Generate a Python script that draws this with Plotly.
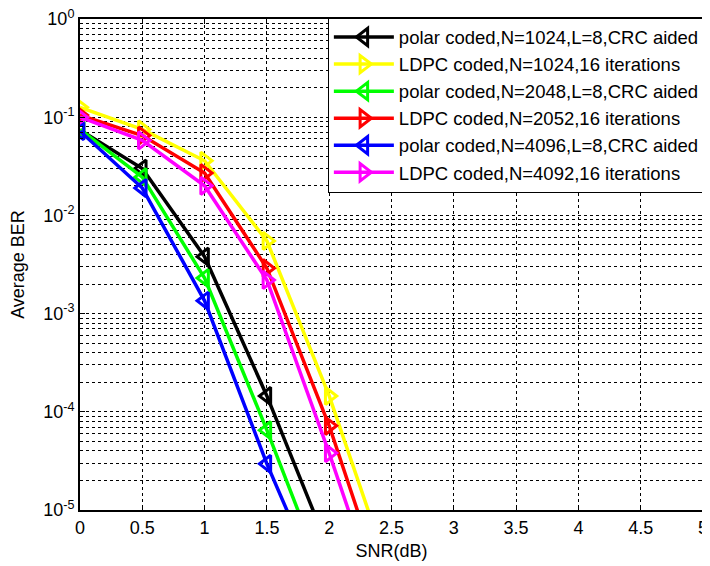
import plotly.graph_objects as go

snr = [0, 0.5, 1, 1.5, 2, 2.5]

polar_1024 = [0.074, 0.030, 0.0038, 1.45e-4, 3.9e-6]
ldpc_1024 = [0.126, 0.075, 0.036, 5.5e-3, 1.45e-4, 2.0e-6]
polar_2048 = [0.075, 0.0245, 0.0023, 6.5e-5, 1.5e-6]
ldpc_2052 = [0.105, 0.065, 0.027, 2.9e-3, 7.2e-5, 9e-7]
polar_4096 = [0.072, 0.019, 0.00135, 2.95e-5, 1.0e-6]
ldpc_4092 = [0.100, 0.058, 0.020, 2.2e-3, 3.8e-5, 5e-7]

names = [
    "polar coded,N=1024,L=8,CRC aided",
    "LDPC coded,N=1024,16 iterations",
    "polar coded,N=2048,L=8,CRC aided",
    "LDPC coded,N=2052,16 iterations",
    "polar coded,N=4096,L=8,CRC aided",
    "LDPC coded,N=4092,16 iterations",
]
series = [polar_1024, ldpc_1024, polar_2048, ldpc_2052, polar_4096, ldpc_4092]
colors = ["#000000", "#FFFF00", "#00FF00", "#FF0000", "#0000FF", "#FF00FF"]
symbols = ["triangle-left-open", "triangle-right-open", "triangle-left-open",
           "triangle-right-open", "triangle-left-open", "triangle-right-open"]

x_ticks = [0, 0.5, 1, 1.5, 2, 2.5, 3, 3.5, 4, 4.5, 5]
x_ticktext = ["0", "0.5", "1", "1.5", "2", "2.5", "3", "3.5", "4", "4.5", "5"]
y_ticks = [1e-5, 1e-4, 1e-3, 1e-2, 1e-1, 1]
y_ticktext = ["10<sup>-5</sup>", "10<sup>-4</sup>", "10<sup>-3</sup>",
              "10<sup>-2</sup>", "10<sup>-1</sup>", "10<sup>0</sup>"]

FONT = "Liberation Sans, Arial"

fig = go.Figure()
for name, ys, c, s in zip(names, series, colors, symbols):
    fig.add_trace(go.Scatter(
        x=snr[:len(ys)], y=ys, name=name, mode="lines+markers",
        line=dict(color=c, width=3.5),
        marker=dict(symbol=s, size=15, color=c, line=dict(color=c, width=3)),
    ))

fig.update_layout(
    width=702, height=558,
    margin=dict(l=72, r=5, t=11, b=56),
    paper_bgcolor="white", plot_bgcolor="white",
    font=dict(family=FONT, size=18, color="black"),
    showlegend=True,
    legend=dict(
        x=1.003, y=1.003, xanchor="right", yanchor="top",
        bgcolor="white", bordercolor="black", borderwidth=1,
        font=dict(family=FONT, size=18.5, color="black"),
        tracegroupgap=0, itemwidth=60,
    ),
)
fig.update_xaxes(
    range=[0, 5], tickvals=x_ticks, ticktext=x_ticktext,
    tickfont=dict(family=FONT, size=18, color="black"),
    ticklabeloverflow="allow",
    showline=True, linecolor="black", linewidth=2, mirror="ticks",
    ticks="inside", ticklen=5, tickcolor="black",
    showgrid=True, gridcolor="black", griddash="dot", gridwidth=1,
    zeroline=False, automargin=False,
    title=dict(text="SNR(dB)", standoff=8, font=dict(family=FONT, size=18)),
)
fig.update_yaxes(
    type="log", range=[-5, 0], tickvals=y_ticks, ticktext=y_ticktext,
    tickfont=dict(family=FONT, size=18, color="black"),
    ticklabeloverflow="allow",
    showline=True, linecolor="black", linewidth=2, mirror="ticks",
    ticks="inside", ticklen=5, tickcolor="black",
    showgrid=True, gridcolor="black", griddash="dot", gridwidth=1,
    minor=dict(ticks="inside", ticklen=3, tickcolor="black",
               showgrid=True, gridcolor="black", griddash="dot", gridwidth=1,
               tickvals=[m * 10 ** e for e in range(-5, 0) for m in range(2, 10)]),
    zeroline=False, automargin=False,
    title=dict(text="Average BER", standoff=14, font=dict(family=FONT, size=18)),
)
fig.write_html("out.html")
